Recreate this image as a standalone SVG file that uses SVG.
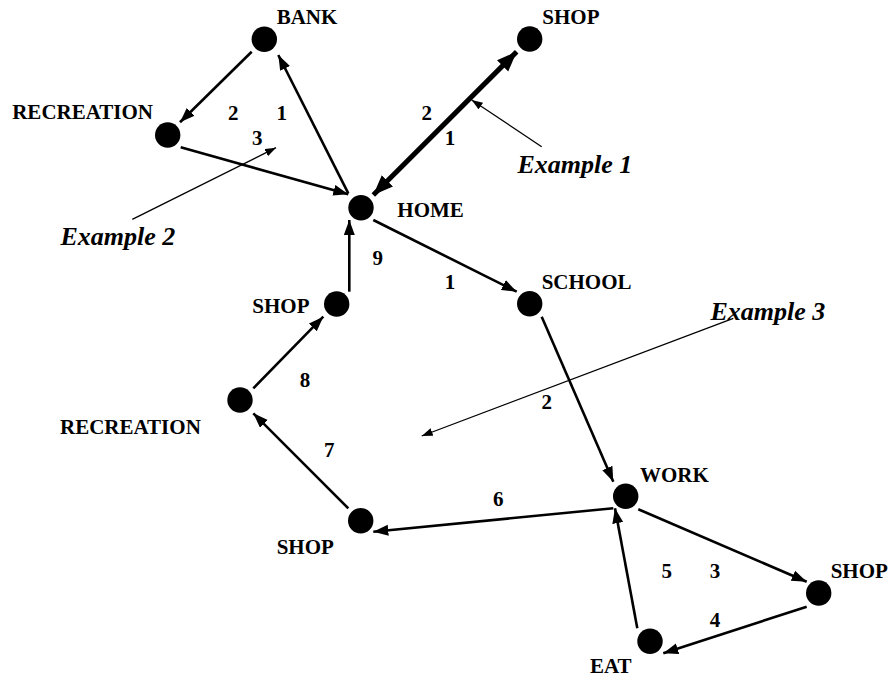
<svg xmlns="http://www.w3.org/2000/svg" width="891" height="677" viewBox="0 0 891 677">
  <style>
    .node { fill: #000; }
    .lbl { font-family: "Liberation Serif", "Times New Roman", serif; font-weight: bold; font-size: 21px; fill: #000; }
    .num { font-family: "Liberation Serif", "Times New Roman", serif; font-weight: bold; font-size: 21px; fill: #000; text-anchor: middle; }
    .ex { font-family: "Liberation Serif", "Times New Roman", serif; font-weight: bold; font-style: italic; font-size: 26px; fill: #000; }
    .edge { stroke: #000; stroke-width: 2.6; fill: none; marker-end: url(#arrow); }
    .thick { stroke: #000; stroke-width: 5; fill: none; marker-end: url(#arrowBig); marker-start: url(#arrowBig); }
    .pointer { stroke: #000; stroke-width: 1.3; fill: none; marker-end: url(#arrowSmall); }
  </style>
  <defs>
    <marker id="arrow" markerUnits="userSpaceOnUse" markerWidth="16" markerHeight="12" refX="15" refY="5.5" orient="auto">
      <path d="M0,0 L15,5.5 L0,11 z" fill="#000"/>
    </marker>
    <marker id="arrowBig" markerUnits="userSpaceOnUse" markerWidth="22" markerHeight="18" refX="20" refY="8" orient="auto-start-reverse">
      <path d="M0,0 L20,8 L0,16 z" fill="#000"/>
    </marker>
    <marker id="arrowSmall" markerUnits="userSpaceOnUse" markerWidth="12" markerHeight="10" refX="11" refY="4" orient="auto">
      <path d="M0,0 L11,4 L0,8 z" fill="#000"/>
    </marker>
  </defs>

  <!-- trips between activity locations -->
  <g id="connectors">
    <line class="edge" x1="251.7" y1="51.7" x2="180" y2="122.3"/>
    <line class="edge" x1="348.3" y1="193.3" x2="278.3" y2="55"/>
    <line class="edge" x1="180.7" y1="147.3" x2="348.3" y2="194.3"/>
    <line class="thick" x1="373.3" y1="195" x2="516.7" y2="51.7"/>
    <line class="edge" x1="373.3" y1="220" x2="516.7" y2="291.7"/>
    <line class="edge" x1="541.7" y1="316.7" x2="613.3" y2="481.7"/>
    <line class="edge" x1="638.3" y1="509.3" x2="806.7" y2="581.7"/>
    <line class="edge" x1="806.7" y1="606.7" x2="663.3" y2="653.3"/>
    <line class="edge" x1="637.3" y1="628.3" x2="615" y2="508.3"/>
    <line class="edge" x1="613.3" y1="508.3" x2="373.3" y2="531.7"/>
    <line class="edge" x1="348.3" y1="508.3" x2="253.3" y2="413.3"/>
    <line class="edge" x1="253.3" y1="388.3" x2="323.3" y2="316.7"/>
    <line class="edge" x1="349.3" y1="291.7" x2="349.3" y2="220"/>
    <!-- callout pointers -->
    <line class="pointer" x1="541.7" y1="146.7" x2="471.7" y2="100"/>
    <line class="pointer" x1="132.3" y1="219.3" x2="276" y2="147.7"/>
    <line class="pointer" x1="733.3" y1="318.3" x2="421.7" y2="436"/>
  </g>

  <g id="bank"><circle class="node" cx="264.3" cy="39.3" r="12.7"/><text class="lbl" x="276.7" y="24">BANK</text></g>
  <g id="recreation-top"><circle class="node" cx="167.7" cy="135" r="12.7"/><text class="lbl" x="153" y="119" text-anchor="end">RECREATION</text></g>
  <g id="shop-top"><circle class="node" cx="529.7" cy="39" r="12.7"/><text class="lbl" x="542.3" y="24">SHOP</text></g>
  <g id="home"><circle class="node" cx="361" cy="207.7" r="12.7"/><text class="lbl" x="397.3" y="216.7">HOME</text></g>
  <g id="shop-mid"><circle class="node" cx="336.7" cy="304" r="12.7"/><text class="lbl" x="252.3" y="313.3">SHOP</text></g>
  <g id="recreation-mid"><circle class="node" cx="240" cy="400" r="12.7"/><text class="lbl" x="60" y="434">RECREATION</text></g>
  <g id="school"><circle class="node" cx="529.7" cy="303.7" r="12.7"/><text class="lbl" x="541.7" y="289.3">SCHOOL</text></g>
  <g id="work"><circle class="node" cx="625.7" cy="496.3" r="12.7"/><text class="lbl" x="640" y="481.7">WORK</text></g>
  <g id="shop-right"><circle class="node" cx="818.7" cy="593" r="12.7"/><text class="lbl" x="830.7" y="578.3">SHOP</text></g>
  <g id="eat"><circle class="node" cx="650" cy="641.3" r="12.7"/><text class="lbl" x="590" y="673.3">EAT</text></g>
  <g id="shop-bottom"><circle class="node" cx="360.7" cy="520.7" r="12.7"/><text class="lbl" x="276.7" y="554.3">SHOP</text></g>

  <g id="trip-numbers">
    <text class="num" x="233.3" y="120">2</text>
    <text class="num" x="281.7" y="120">1</text>
    <text class="num" x="257.3" y="145">3</text>
    <text class="num" x="426.7" y="120">2</text>
    <text class="num" x="450" y="145">1</text>
    <text class="num" x="377.7" y="265">9</text>
    <text class="num" x="450" y="289.3">1</text>
    <text class="num" x="305" y="386.7">8</text>
    <text class="num" x="329.3" y="457.3">7</text>
    <text class="num" x="546.7" y="409.3">2</text>
    <text class="num" x="498.3" y="506">6</text>
    <text class="num" x="666.7" y="578.3">5</text>
    <text class="num" x="715" y="578.3">3</text>
    <text class="num" x="715" y="626.7">4</text>
  </g>

  <g id="examples">
    <text class="ex" x="517.5" y="173">Example 1</text>
    <text class="ex" x="60.5" y="244.5">Example 2</text>
    <text class="ex" x="710.5" y="320">Example 3</text>
  </g>
</svg>
